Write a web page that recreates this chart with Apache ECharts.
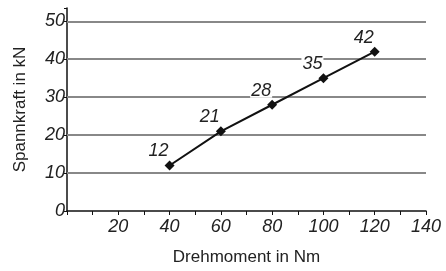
<!DOCTYPE html>
<html>
<head>
<meta charset="utf-8">
<script src="https://cdn.jsdelivr.net/npm/echarts@6/dist/echarts.min.js"></script>
<style>
html, body { margin: 0; padding: 0; background: #fff; }
#chart { width: 446px; height: 271px; }
</style>
</head>
<body>
<div id="chart"></div>
<script>
var torque = [40, 60, 80, 100, 120];
var force = [12, 21, 28, 35, 42];
var gridValues = [10, 20, 30, 40, 50];

var font = '"Liberation Sans", Arial, sans-serif';
var chart = echarts.init(document.getElementById('chart'));

var option = {
    animation: false,
    grid: { left: 67, right: 20, top: 8, bottom: 60 },
    xAxis: {
        type: 'value',
        min: 0,
        max: 140,
        interval: 20,
        name: 'Drehmoment in Nm',
        nameLocation: 'middle',
        nameGap: 38,
        nameTextStyle: { fontFamily: font, fontSize: 17, color: '#222' },
        axisLine: { lineStyle: { color: '#111', width: 1.5 } },
        axisTick: { length: 4, lineStyle: { color: '#111' } },
        minorTick: { show: true, splitNumber: 2, length: 4, lineStyle: { color: '#111' } },
        splitLine: { show: false },
        axisLabel: {
            fontFamily: font, fontSize: 18, fontStyle: 'italic', color: '#222', margin: 7,
            formatter: function (v) { return v === 0 ? '' : v; }
        }
    },
    yAxis: {
        type: 'value',
        min: 0,
        max: 53.5,
        interval: 10,
        name: 'Spannkraft in kN',
        nameLocation: 'middle',
        nameGap: 38,
        nameTextStyle: { fontFamily: font, fontSize: 17, color: '#222' },
        axisLine: { show: true, lineStyle: { color: '#111', width: 1.5 } },
        axisTick: { show: true, length: 3, lineStyle: { color: '#111' } },
        splitLine: { show: false },
        axisLabel: {
            fontFamily: font, fontSize: 18, fontStyle: 'italic', color: '#222', margin: 2,
            formatter: function (v) { return v % 10 === 0 ? v : ''; }
        }
    },
    series: [{
        type: 'line',
        data: torque.map(function (x, i) { return [x, force[i]]; }),
        symbol: 'diamond',
        symbolSize: 10,
        lineStyle: { color: '#111', width: 2 },
        itemStyle: { color: '#111' },
        label: {
            show: true,
            position: 'top',
            distance: 3,
            offset: [-11, 1],
            fontFamily: font,
            fontSize: 18,
            lineHeight: 14,
            fontStyle: 'italic',
            color: '#222',
            backgroundColor: '#fff',
            padding: [0, 1],
            formatter: function (p) { return p.value[1]; }
        },
        markLine: {
            silent: true,
            symbol: 'none',
            label: { show: false },
            lineStyle: { color: '#888', type: 'solid', width: 2 },
            z: 1,
            data: gridValues.map(function (v) { return { yAxis: v }; })
        },
        z: 3
    }]
};

chart.setOption(option);
</script>
</body>
</html>
